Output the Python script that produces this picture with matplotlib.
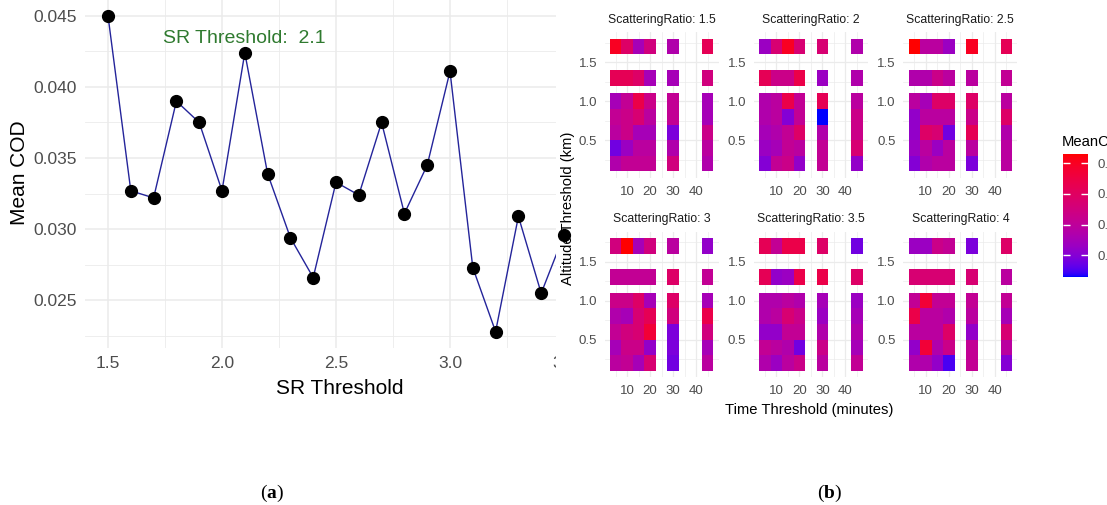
import numpy as np
import matplotlib
matplotlib.use("Agg")
import matplotlib.pyplot as plt
from matplotlib.colors import ListedColormap, Normalize
from matplotlib.patches import Rectangle
from matplotlib.cm import ScalarMappable

plt.rcParams['font.family'] = ['Liberation Sans', 'DejaVu Sans']
plt.rcParams['mathtext.fontset'] = 'custom'
plt.rcParams['mathtext.bf'] = 'Liberation Serif:bold'
plt.rcParams['mathtext.rm'] = 'Liberation Serif'

# ---------------- data: panel (a) ----------------
sr_threshold = [1.5, 1.6, 1.7, 1.8, 1.9, 2.0, 2.1, 2.2, 2.3, 2.4, 2.5,
                2.6, 2.7, 2.8, 2.9, 3.0, 3.1, 3.2, 3.3, 3.4, 3.5]
mean_cod = [0.0450, 0.0327, 0.0322, 0.0390, 0.0375, 0.0327, 0.0424, 0.0339,
            0.0294, 0.0266, 0.0333, 0.0324, 0.0375, 0.0311, 0.0345, 0.0411,
            0.0273, 0.0228, 0.0309, 0.0255, 0.0296]
best_label = "SR Threshold:  2.1"
best_sr = 2.1

# ---------------- data: panel (b) ----------------
time_thresholds = [5, 10, 15, 20, 30, 45]
altitude_thresholds = [1.7, 1.3, 1.0, 0.8, 0.6, 0.4, 0.2]   # rows, top to bottom
scattering_ratios = ["1.5", "2", "2.5", "3", "3.5", "4"]

cod_sr_1_5 = [[0.050, 0.039, 0.025, 0.035, 0.027, 0.042],
              [0.042, 0.042, 0.039, 0.025, 0.025, 0.035],
              [0.025, 0.031, 0.044, 0.033, 0.031, 0.025],
              [0.031, 0.033, 0.037, 0.029, 0.031, 0.025],
              [0.029, 0.033, 0.025, 0.025, 0.019, 0.033],
              [0.018, 0.023, 0.029, 0.029, 0.027, 0.029],
              [0.027, 0.031, 0.031, 0.031, 0.035, 0.027]]
cod_sr_2 = [[0.023, 0.037, 0.050, 0.037, 0.037, 0.027],
            [0.042, 0.033, 0.033, 0.044, 0.023, 0.027],
            [0.027, 0.029, 0.044, 0.031, 0.042, 0.029],
            [0.027, 0.029, 0.020, 0.031, 0.013, 0.033],
            [0.025, 0.027, 0.031, 0.039, 0.027, 0.033],
            [0.023, 0.025, 0.031, 0.029, 0.031, 0.037],
            [0.020, 0.031, 0.033, 0.022, 0.031, 0.022]]
cod_sr_2_5 = [[0.053, 0.029, 0.029, 0.023, 0.050, 0.042],
              [0.027, 0.027, 0.033, 0.029, 0.029, 0.031],
              [0.029, 0.025, 0.039, 0.039, 0.039, 0.029],
              [0.022, 0.029, 0.029, 0.029, 0.033, 0.039],
              [0.022, 0.039, 0.037, 0.018, 0.042, 0.027],
              [0.023, 0.029, 0.023, 0.029, 0.029, 0.029],
              [0.020, 0.027, 0.029, 0.029, 0.019, 0.029]]
cod_sr_3 = [[0.035, 0.053, 0.025, 0.035, 0.029, 0.022],
            [0.031, 0.031, 0.031, 0.031, 0.039, 0.031],
            [0.033, 0.033, 0.039, 0.025, 0.039, 0.025],
            [0.027, 0.025, 0.037, 0.042, 0.035, 0.044],
            [0.031, 0.035, 0.037, 0.047, 0.019, 0.035],
            [0.025, 0.033, 0.033, 0.022, 0.019, 0.025],
            [0.029, 0.031, 0.025, 0.037, 0.018, 0.029]]
cod_sr_3_5 = [[0.042, 0.031, 0.044, 0.044, 0.039, 0.018],
              [0.042, 0.022, 0.023, 0.044, 0.044, 0.039],
              [0.027, 0.027, 0.029, 0.027, 0.025, 0.023],
              [0.027, 0.029, 0.037, 0.033, 0.023, 0.025],
              [0.022, 0.022, 0.031, 0.031, 0.027, 0.027],
              [0.031, 0.029, 0.027, 0.018, 0.033, 0.025],
              [0.027, 0.023, 0.029, 0.033, 0.029, 0.031]]
cod_sr_4 = [[0.023, 0.023, 0.033, 0.031, 0.019, 0.039],
            [0.037, 0.037, 0.037, 0.037, 0.037, 0.029],
            [0.031, 0.047, 0.031, 0.031, 0.031, 0.031],
            [0.044, 0.029, 0.029, 0.027, 0.029, 0.025],
            [0.029, 0.029, 0.029, 0.039, 0.022, 0.037],
            [0.022, 0.047, 0.027, 0.033, 0.031, 0.029],
            [0.027, 0.027, 0.022, 0.015, 0.031, 0.020]]
facet_values = [cod_sr_1_5, cod_sr_2, cod_sr_2_5, cod_sr_3, cod_sr_3_5, cod_sr_4]
legend_ticks = [0.02, 0.03, 0.04, 0.05]
legend_labels = ['0.02', '0.03', '0.04', '0.05']

# ---------------- colour scale (Lab interpolation blue -> red) ----------------
_M = np.array([[0.4124564, 0.3575761, 0.1804375],
               [0.2126729, 0.7151522, 0.0721750],
               [0.0193339, 0.1191920, 0.9503041]])
_WP = np.array([0.95047, 1.0, 1.08883])


def srgb_to_lab(rgb):
    c = np.asarray(rgb, float)
    lin = np.where(c <= 0.04045, c / 12.92, ((c + 0.055) / 1.055) ** 2.4)
    t = (_M @ lin) / _WP
    d = 6 / 29
    f = np.where(t > d ** 3, np.cbrt(t), t / (3 * d * d) + 4 / 29)
    return np.array([116 * f[1] - 16, 500 * (f[0] - f[1]), 200 * (f[1] - f[2])])


def lab_to_srgb(lab):
    L, a, b = lab
    fy = (L + 16) / 116
    fx = fy + a / 500
    fz = fy - b / 200
    d = 6 / 29
    f = np.array([fx, fy, fz])
    t = np.where(f > d, f ** 3, 3 * d * d * (f - 4 / 29))
    xyz = t * _WP
    lin = np.linalg.solve(_M, xyz)
    lin = np.clip(lin, 0, 1)
    c = np.where(lin <= 0.0031308, 12.92 * lin, 1.055 * lin ** (1 / 2.4) - 0.055)
    return np.clip(c, 0, 1)


lab_lo = srgb_to_lab([0, 0, 1])
lab_hi = srgb_to_lab([1, 0, 0])
cmap = ListedColormap([lab_to_srgb(lab_lo + s * (lab_hi - lab_lo)) for s in np.linspace(0, 1, 256)])
all_vals = np.array(facet_values, float)
norm = Normalize(vmin=all_vals.min(), vmax=all_vals.max())

# ---------------- figure ----------------
W, H = 1107, 505
fig = plt.figure(figsize=(W / 100, H / 100), dpi=100)


def rect(l, t, w, h):
    return [l / W, 1 - (t + h) / H, w / W, h / H]


GRID = '#EBEBEB'
TICKC = '#4D4D4D'

# ---- panel (a) ----
crop_px = 556
ax = fig.add_axes(rect(85.2, 0, crop_px - 85.2, 348))
ax.set_xlim(1.4, 1.4 + (crop_px - 85.2) / 228.0)
ax.set_ylim(0.02165, 0.04611)
ax.set_xticks([1.5, 2.0, 2.5, 3.0])
ax.set_xticks([1.75, 2.25, 2.75, 3.25], minor=True)
ax.set_yticks([0.025, 0.030, 0.035, 0.040, 0.045])
ax.set_yticks([0.0225, 0.0275, 0.0325, 0.0375, 0.0425], minor=True)
ax.set_xticklabels(['1.5', '2.0', '2.5', '3.0'])
ax.set_yticklabels(['0.025', '0.030', '0.035', '0.040', '0.045'])
ax.grid(True, which='major', color=GRID, lw=1.1)
ax.grid(True, which='minor', color=GRID, lw=0.6)
ax.set_axisbelow(True)
for s in ax.spines.values():
    s.set_visible(False)
ax.tick_params(which='both', length=0, labelsize=12.5, colors=TICKC, pad=6)
ax.plot(sr_threshold, mean_cod, color='#24249a', lw=1.0, zorder=2)
ax.plot(sr_threshold, mean_cod, 'o', color='black', ms=8.5, zorder=3, clip_on=False)
ax.text(best_sr, 0.0434, best_label, color='#2f7a2f', fontsize=14,
        ha='center', va='center')
# partially cropped "3.5" tick label at the right edge (image is cropped there)
t35 = ax.text(3.5, -8.3 / 348, '3.5', transform=ax.get_xaxis_transform(), ha='center',
              va='top', fontsize=12.5, color=TICKC)
t35.set_clip_path(Rectangle((0, 0), crop_px / W, 1, transform=fig.transFigure))
t35.set_clip_on(True)
fig.text(340 / W, 1 - 388 / H, 'SR Threshold', fontsize=15, ha='center', va='center')
fig.text(20 / W, 1 - 173 / H, 'Mean COD', fontsize=15, ha='center', va='center',
         rotation=90)

# ---- panel (b) ----
x_edges = [2.5, 7.5, 12.5, 17.5, 22.5, 27.5, 32.5, 42.5, 47.5]
y_edges = [0.1, 0.3, 0.5, 0.7, 0.9, 1.1, 1.2, 1.4, 1.6, 1.8]
for i, (sr, vals) in enumerate(zip(scattering_ratios, facet_values)):
    col, row = i % 3, i // 3
    left = 604.6 + col * 149.4
    top = 32.2 + row * 199.3
    axf = fig.add_axes(rect(left, top, 113.9, 145.9))
    axf.set_xlim(0.25, 49.75)
    axf.set_ylim(0.015, 1.885)
    grid = np.full((len(y_edges) - 1, len(x_edges) - 1), np.nan)
    for r, alt in enumerate(altitude_thresholds):
        yi = int(np.searchsorted(y_edges, alt) - 1)
        for c, tm in enumerate(time_thresholds):
            xi = int(np.searchsorted(x_edges, tm) - 1)
            grid[yi, xi] = vals[r][c]
    axf.pcolormesh(x_edges, y_edges, np.ma.masked_invalid(grid), cmap=cmap, norm=norm,
                   shading='flat', antialiased=False, zorder=2)
    axf.set_xticks([10, 20, 30, 40])
    axf.set_xticks([5, 15, 25, 35, 45], minor=True)
    axf.set_yticks([0.5, 1.0, 1.5])
    axf.set_yticks([0.25, 0.75, 1.25, 1.75], minor=True)
    axf.set_yticklabels(['0.5', '1.0', '1.5'])
    axf.grid(True, which='major', color=GRID, lw=0.9)
    axf.grid(True, which='minor', color=GRID, lw=0.5)
    axf.set_axisbelow(True)
    for s in axf.spines.values():
        s.set_visible(False)
    axf.tick_params(which='both', length=0, labelsize=9.5, colors=TICKC, pad=5.5)
    fig.text((left + 113.9 / 2) / W, 1 - (top - 12) / H, 'ScatteringRatio: ' + sr,
             fontsize=8.8, color='#1A1A1A', ha='center', va='center')

fig.text(809 / W, 1 - 410 / H, 'Time Threshold (minutes)', fontsize=10.6,
         ha='center', va='center')
fig.text(568 / W, 1 - 208 / H, 'Altitude Threshold (km)', fontsize=10.6,
         ha='center', va='center', rotation=90)

cax = fig.add_axes(rect(1063.3, 154, 25, 122.7))
cb = fig.colorbar(ScalarMappable(norm=norm, cmap=cmap), cax=cax)
cb.outline.set_visible(False)
cb.set_ticks(legend_ticks)
cb.set_ticklabels(legend_labels)
cax.tick_params(axis='y', direction='in', length=5, width=1, color='white',
                left=True, right=True, labelleft=False, labelright=True,
                labelsize=9.5, labelcolor=TICKC, pad=6.5)
# legend title; the source image is cropped at the right, so it runs off the edge
fig.text(1061.7 / W, 1 - 141.7 / H, 'MeanCOD', fontsize=10.6, ha='left', va='center')

# ---- captions ----
fig.text(272 / W, 1 - 493 / H, r'($\mathbf{a}$)', fontsize=14, ha='center', va='center',
         family='Liberation Serif')
fig.text(830 / W, 1 - 493 / H, r'($\mathbf{b}$)', fontsize=14, ha='center', va='center',
         family='Liberation Serif')

fig.savefig('out.png', dpi=100)
